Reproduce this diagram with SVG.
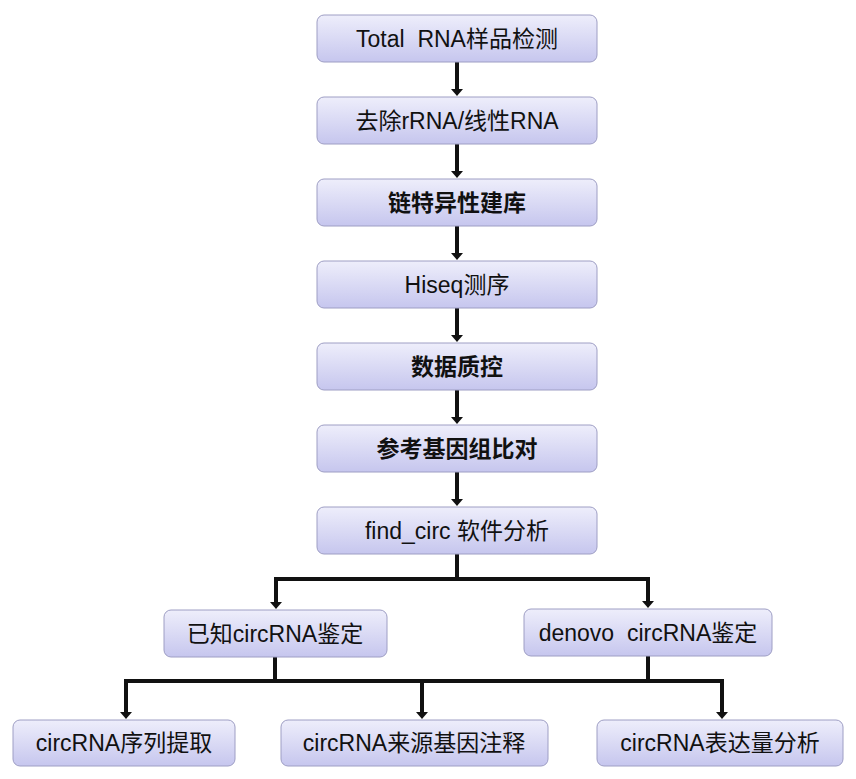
<svg xmlns="http://www.w3.org/2000/svg" width="856" height="779" viewBox="0 0 856 779">
<defs>
<linearGradient id="g" x1="0" y1="0" x2="0" y2="1">
<stop offset="0" stop-color="#eeeefb"/>
<stop offset="1" stop-color="#c6c6ee"/>
</linearGradient>
<style>
.box{fill:url(#g);stroke:#9e9ec4;stroke-width:1}
.t{font-family:"Liberation Sans","Noto Sans CJK SC",sans-serif;font-size:23px;fill:#111;text-anchor:middle;white-space:pre}
.b{font-weight:bold}
.c{fill:none;stroke:#111;stroke-width:4}
.h{fill:#111}
</style>
</defs>
<rect width="856" height="779" fill="#fff"/>
<g id="connectors">
<path class="c" d="M457,62 V89"/>
<path class="h" d="M451,89 H463 L457,96 Z"/>
<path class="c" d="M457,144 V171"/>
<path class="h" d="M451,171 H463 L457,178 Z"/>
<path class="c" d="M457,226 V253"/>
<path class="h" d="M451,253 H463 L457,260 Z"/>
<path class="c" d="M457,308 V335"/>
<path class="h" d="M451,335 H463 L457,342 Z"/>
<path class="c" d="M457,390 V417"/>
<path class="h" d="M451,417 H463 L457,424 Z"/>
<path class="c" d="M457,472 V499"/>
<path class="h" d="M451,499 H463 L457,506 Z"/>
<path class="c" d="M457,554 V579 M276,579 H648 M276,577 V602 M648,577 V601"/>
<path class="h" d="M270,602 H282 L276,609 Z"/>
<path class="h" d="M642,601 H654 L648,608 Z"/>
<path class="c" d="M275,657 V681 M648,656 V681 M126,681 H722 M126,679 V712 M422,679 V712 M722,679 V712"/>
<path class="h" d="M120,712 H132 L126,719 Z"/>
<path class="h" d="M416,712 H428 L422,719 Z"/>
<path class="h" d="M716,712 H728 L722,719 Z"/>
</g>
<g id="n1"><rect class="box" x="317" y="15" width="280" height="47" rx="7"/><text class="t" x="457" y="47">Total  RNA样品检测</text></g>
<g id="n2"><rect class="box" x="317" y="97" width="280" height="47" rx="7"/><text class="t" x="457" y="129">去除rRNA/线性RNA</text></g>
<g id="n3"><rect class="box" x="317" y="179" width="280" height="47" rx="7"/><text class="t b" x="457" y="211">链特异性建库</text></g>
<g id="n4"><rect class="box" x="317" y="261" width="280" height="47" rx="7"/><text class="t" x="457" y="293">Hiseq测序</text></g>
<g id="n5"><rect class="box" x="317" y="343" width="280" height="47" rx="7"/><text class="t b" x="457" y="375">数据质控</text></g>
<g id="n6"><rect class="box" x="317" y="425" width="280" height="47" rx="7"/><text class="t b" x="457" y="457">参考基因组比对</text></g>
<g id="n7"><rect class="box" x="317" y="507" width="280" height="47" rx="7"/><text class="t" x="457" y="539">find_circ 软件分析</text></g>
<g id="n8"><rect class="box" x="164" y="610" width="223" height="47" rx="7"/><text class="t" x="275" y="642">已知circRNA鉴定</text></g>
<g id="n9"><rect class="box" x="524" y="609" width="248" height="47" rx="7"/><text class="t" x="648" y="641">denovo  circRNA鉴定</text></g>
<g id="n10"><rect class="box" x="13" y="720" width="222" height="46" rx="7"/><text class="t" x="124" y="751">circRNA序列提取</text></g>
<g id="n11"><rect class="box" x="281" y="720" width="267" height="46" rx="7"/><text class="t" x="414" y="751">circRNA来源基因注释</text></g>
<g id="n12"><rect class="box" x="597" y="720" width="246" height="46" rx="7"/><text class="t" x="720" y="751">circRNA表达量分析</text></g>
</svg>
